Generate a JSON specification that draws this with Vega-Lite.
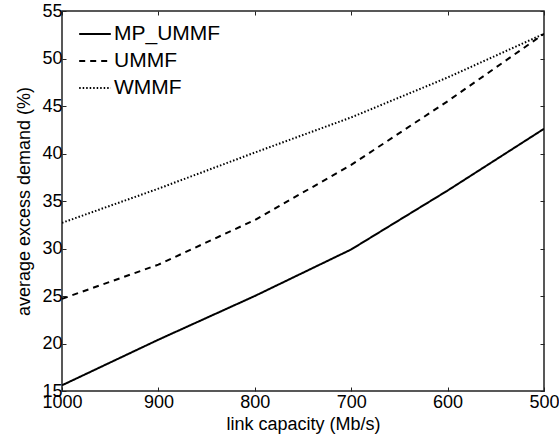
{
  "$schema": "https://vega.github.io/schema/vega-lite/v6.json",
  "autosize": "none",
  "width": 482,
  "height": 380,
  "padding": {"left": 62, "top": 11, "right": 15, "bottom": 49},
  "background": "white",
  "config": {
    "font": "Liberation Sans",
    "view": {"stroke": "#222222", "strokeWidth": 1.5},
    "axis": {
      "domain": false,
      "grid": false,
      "tickSize": -4,
      "tickColor": "#222222",
      "tickWidth": 1,
      "labelFont": "Liberation Sans",
      "labelFontSize": 18,
      "labelColor": "black",
      "titleFont": "Liberation Sans",
      "titleFontSize": 18,
      "titleFontWeight": "normal",
      "titleColor": "black"
    }
  },
  "data": {
    "values": [
      {"cap": 1000, "val": 15.6, "series": "MP_UMMF"},
      {"cap": 900, "val": 20.4, "series": "MP_UMMF"},
      {"cap": 800, "val": 25.0, "series": "MP_UMMF"},
      {"cap": 700, "val": 29.9, "series": "MP_UMMF"},
      {"cap": 600, "val": 36.1, "series": "MP_UMMF"},
      {"cap": 500, "val": 42.6, "series": "MP_UMMF"},
      {"cap": 1000, "val": 24.7, "series": "UMMF"},
      {"cap": 900, "val": 28.3, "series": "UMMF"},
      {"cap": 800, "val": 33.0, "series": "UMMF"},
      {"cap": 700, "val": 38.8, "series": "UMMF"},
      {"cap": 600, "val": 45.5, "series": "UMMF"},
      {"cap": 500, "val": 52.6, "series": "UMMF"},
      {"cap": 1000, "val": 32.7, "series": "WMMF"},
      {"cap": 900, "val": 36.3, "series": "WMMF"},
      {"cap": 800, "val": 40.1, "series": "WMMF"},
      {"cap": 700, "val": 43.8, "series": "WMMF"},
      {"cap": 600, "val": 48.0, "series": "WMMF"},
      {"cap": 500, "val": 52.6, "series": "WMMF"}
    ]
  },
  "layer": [
    {
      "mark": {"type": "line", "color": "black", "clip": true},
      "encoding": {
        "x": {
          "field": "cap", "type": "quantitative",
          "scale": {"domain": [500, 1000], "reverse": true, "nice": false, "zero": false},
          "axis": {"values": [1000, 900, 800, 700, 600, 500], "format": "d", "title": "link capacity (Mb/s)", "labelPadding": 6, "titlePadding": 4, "labelFlush": false}
        },
        "y": {
          "field": "val", "type": "quantitative",
          "scale": {"domain": [15, 55], "nice": false, "zero": false},
          "axis": {"values": [15, 20, 25, 30, 35, 40, 45, 50, 55], "title": "average excess demand (%)", "labelPadding": 4, "titlePadding": 8, "labelFlush": false}
        },
        "strokeDash": {
          "field": "series", "type": "nominal",
          "scale": {"domain": ["MP_UMMF", "UMMF", "WMMF"], "range": [[1, 0], [6, 5], [1.5, 2]]},
          "legend": {
            "title": null,
            "orient": "none",
            "legendX": 16,
            "legendY": 6,
            "symbolType": "stroke",
            "symbolSize": 1000,
            "symbolStrokeColor": "black",
            "labelFont": "Liberation Sans",
            "labelFontSize": 21,
            "labelColor": "black",
            "labelOffset": 2,
            "rowPadding": -9,
            "symbolOffset": 0
          }
        },
        "strokeWidth": {
          "field": "series", "type": "nominal",
          "scale": {"domain": ["MP_UMMF", "UMMF", "WMMF"], "range": [2, 2, 1]},
          "legend": null
        }
      }
    },
    {
      "mark": {"type": "point", "opacity": 0},
      "encoding": {
        "x": {"field": "cap", "type": "quantitative",
          "axis": {"orient": "top", "values": [1000, 900, 800, 700, 600, 500], "labels": false, "title": null}},
        "y": {"field": "val", "type": "quantitative",
          "axis": {"orient": "right", "values": [15, 20, 25, 30, 35, 40, 45, 50, 55], "labels": false, "title": null}}
      }
    }
  ],
  "resolve": {"axis": {"x": "independent", "y": "independent"}}
}
